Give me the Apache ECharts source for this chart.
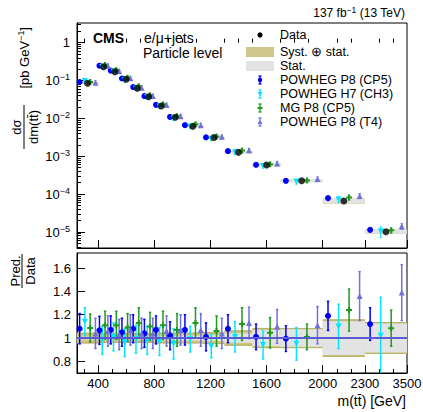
<!DOCTYPE html>
<html><head><meta charset="utf-8">
<script src="https://cdn.jsdelivr.net/npm/echarts@6/dist/echarts.min.js"></script>
<style>html,body{margin:0;padding:0;background:#fff}#c{width:423px;height:412px}</style>
</head><body><div id="c"></div>
<script>
// ---------------- data ----------------
const binEdges = [250,400,480,560,640,720,800,900,1000,1150,1300,1500,1700,2000,2300,3500];
// measured dsigma/dm(tt) [pb/GeV]
const dataXsec = [0.0847,0.232,0.171,0.108,0.0624,0.0374,0.0213,0.0107,0.0062,0.00313,0.00127,5.9e-4,2.26e-4,6.6e-5,1.02e-5];
// relative uncertainties of the measurement
const totRel  = [0.045,0.04,0.04,0.04,0.04,0.04,0.045,0.045,0.045,0.05,0.065,0.085,0.085,0.16,0.135];
const statRel = [0.012,0.01,0.01,0.01,0.012,0.013,0.015,0.018,0.02,0.025,0.04,0.07,0.075,0.145,0.125];
// Pred./Data ratios and their uncertainties
const ratioCP5 = [1.08,1.066,1.07,1.05,1.08,1.04,1.07,1.02,1.07,1.01,1.08,1.01,0.995,1.19,1.12];
const errCP5   = [0.13,0.12,0.12,0.12,0.12,0.12,0.12,0.12,0.13,0.12,0.12,0.11,0.11,0.125,0.14];
const ratioCH3 = [1.14,0.98,1.01,0.96,0.99,0.98,0.97,0.95,0.99,0.93,1.01,0.94,0.95,1.10,1.02];
const errCH3   = [0.12,0.12,0.12,0.12,0.12,0.12,0.12,0.13,0.11,0.1,0.13,0.12,0.14,0.19,0.33];
const ratioMG  = [1.086,1.11,1.11,1.09,1.13,1.10,1.11,1.07,1.13,1.06,1.12,1.045,1.01,1.24,1.085];
const errMG    = [0.12,0.12,0.12,0.12,0.13,0.12,0.12,0.14,0.13,0.13,0.14,0.13,0.11,0.18,0.155];
const ratioT4  = [1.04,1.06,1.03,1.07,1.04,1.04,1.06,1.07,1.07,1.04,1.13,1.10,1.11,1.36,1.39];
const errT4    = [0.13,0.13,0.13,0.13,0.13,0.13,0.13,0.13,0.14,0.13,0.135,0.145,0.16,0.21,0.24];
// axis ticks
const xTickLabels = [400,800,1200,1600,2000,2300,3500];
const xMinorTicks = [300,500,600,700,900,1000,1100,1300,1400,1500,1700,1800,1900,2100,2200,2700,3100];
const ratioTicks = [0.8,1.0,1.2,1.4,1.6];

// ---------------- helpers ----------------
const FONT = '"Liberation Sans", Arial, Helvetica, sans-serif';
// the last bin (2300-3500) is drawn compressed, like in the original figure
const tx = m => m <= 2300 ? m : 2300 + (m - 2300) * 0.25;
const XMIN = tx(binEdges[0]), XMAX = tx(binEdges[binEdges.length-1]);
const lo = i => tx(binEdges[i]), hi = i => tx(binEdges[i+1]);
const predX = (i,k) => lo(i) + (k + 0.5) / 4 * (hi(i) - lo(i));
const YMIN = 3.78e-6, YMAX = 3.31;
const logMinor = [];
for (let e = -6; e <= 0; e++) for (let k = 2; k <= 9; k++) {
  const v = k * Math.pow(10, e);
  if (v > YMIN && v < YMAX) logMinor.push(Math.log10(v));
}

const preds = [
  {name:'POWHEG P8 (CP5)', r:ratioCP5, e:errCP5, color:'#0000ff', symbol:'circle', size:6, rot:0},
  {name:'POWHEG H7 (CH3)', r:ratioCH3, e:errCH3, color:'#00e8ff', symbol:'triangle', size:6, rot:180},
  {name:'MG P8 (CP5)',     r:ratioMG,  e:errMG,  color:'#1f9a1f', symbol:'path://M1,0H2V1H3V2H2V3H1V2H0V1H1Z', size:6, rot:0},
  {name:'POWHEG P8 (T4)',  r:ratioT4,  e:errT4,  color:'#7272dc', symbol:'triangle', size:6, rot:0}
];
const KHAKI = '#cfc789', KHAKI_EDGE = '#bdb46c', GREY = '#e3e3e3';

function bandRender(fill, edge) {
  return function (params, api) {
    const p1 = api.coord([api.value(0), api.value(3)]);
    const p2 = api.coord([api.value(1), api.value(2)]);
    const ch = [{type:'rect', shape:{x:p1[0], y:p1[1], width:p2[0]-p1[0], height:p2[1]-p1[1]}, style:{fill:fill}}];
    if (edge) {
      ch.push({type:'line', shape:{x1:p1[0], y1:p1[1]+0.5, x2:p2[0], y2:p1[1]+0.5}, style:{stroke:edge, lineWidth:1.5}});
      ch.push({type:'line', shape:{x1:p1[0], y1:p2[1]-0.5, x2:p2[0], y2:p2[1]-0.5}, style:{stroke:edge, lineWidth:1.5}});
    }
    return {type:'group', children:ch};
  };
}
function errRender(color, lw, cap) {
  return function (params, api) {
    const x = api.value(0);
    const t = api.coord([x, api.value(2)]);
    const b = api.coord([x, api.value(1)]);
    const st = {stroke:color, lineWidth:lw};
    return {type:'group', children:[
      {type:'line', shape:{x1:t[0], y1:t[1], x2:b[0], y2:b[1]}, style:st},
      {type:'line', shape:{x1:t[0]-cap, y1:t[1], x2:t[0]+cap, y2:t[1]}, style:st},
      {type:'line', shape:{x1:b[0]-cap, y1:b[1], x2:b[0]+cap, y2:b[1]}, style:st}
    ]};
  };
}

const series = [];
// ---- top panel ----
series.push({type:'custom', name:'Syst ⊕ stat', xAxisIndex:0, yAxisIndex:0, z:1,
  renderItem:bandRender(KHAKI), encode:{x:[0,1], y:[2,3]},
  data:dataXsec.map((d,i)=>[lo(i), hi(i), d*(1-totRel[i]), d*(1+totRel[i])])});
series.push({type:'custom', name:'Stat', xAxisIndex:0, yAxisIndex:0, z:2,
  renderItem:bandRender(GREY), encode:{x:[0,1], y:[2,3]},
  data:dataXsec.map((d,i)=>[lo(i), hi(i), d*(1-statRel[i]), d*(1+statRel[i])])});
preds.forEach((p,k)=>{
  series.push({type:'custom', name:p.name, xAxisIndex:0, yAxisIndex:0, z:3,
    renderItem:errRender(p.color, 1, 1.2), encode:{x:0, y:[1,2]},
    data:dataXsec.map((d,i)=>[predX(i,k), d*(p.r[i]-p.e[i]), d*(p.r[i]+p.e[i])])});
  series.push({type:'scatter', name:p.name, xAxisIndex:0, yAxisIndex:0, z:4,
    symbol:p.symbol, symbolSize:p.size, symbolRotate:p.rot, itemStyle:{color:p.color, opacity:1},
    data:dataXsec.map((d,i)=>[predX(i,k), d*p.r[i]])});
});
series.push({type:'scatter', name:'Data', xAxisIndex:0, yAxisIndex:0, z:5,
  symbol:'circle', symbolSize:7, itemStyle:{color:'#000'},
  data:dataXsec.map((d,i)=>[(lo(i)+hi(i))/2, d])});
// ---- ratio panel ----
series.push({type:'custom', name:'Syst ⊕ stat ratio', xAxisIndex:2, yAxisIndex:2, z:1,
  renderItem:bandRender(KHAKI, KHAKI_EDGE), encode:{x:[0,1], y:[2,3]},
  data:totRel.map((u,i)=>[lo(i), hi(i), 1-u, 1+u])});
series.push({type:'custom', name:'Stat ratio', xAxisIndex:2, yAxisIndex:2, z:2,
  renderItem:bandRender(GREY), encode:{x:[0,1], y:[2,3]},
  data:statRel.map((u,i)=>[lo(i), hi(i), 1-u, 1+u]),
  markLine:{silent:true, symbol:'none', label:{show:false}, animation:false,
    lineStyle:{color:'#5a5ad2', width:2, type:'solid'}, data:[{yAxis:1}]}});
preds.forEach((p,k)=>{
  series.push({type:'custom', name:p.name+' ratio', xAxisIndex:2, yAxisIndex:2, z:3, clip:true,
    renderItem:errRender(p.color, 1.5, 1.2), encode:{x:0, y:[1,2]},
    data:p.r.map((r,i)=>[predX(i,k), r-p.e[i], r+p.e[i]])});
  series.push({type:'scatter', name:p.name+' ratio', xAxisIndex:2, yAxisIndex:2, z:4,
    symbol:p.symbol, symbolSize:p.size, symbolRotate:p.rot, itemStyle:{color:p.color, opacity:1},
    data:p.r.map((r,i)=>[predX(i,k), r])});
});

const axisTxt = {color:'#000', fontFamily:FONT, fontSize:13};
const xTickPos = xTickLabels.map(tx);
const xMinorPos = xMinorTicks.map(tx);
function xMain(grid, labels) {
  return {type:'value', gridIndex:grid, position:'bottom', min:XMIN, max:XMAX,
    axisLine:{show:true, onZero:false, lineStyle:{color:'#000', width:1}},
    axisTick:{show:true, inside:true, length:8, customValues:xTickPos, lineStyle:{color:'#000'}},
    axisLabel:labels ? Object.assign({show:true, margin:4, customValues:xTickPos,
      formatter:v=>String(xTickLabels[xTickPos.indexOf(v)])}, axisTxt) : {show:false},
    splitLine:{show:false}};
}
function xMinor(grid) {
  return {type:'value', gridIndex:grid, position:'bottom', min:XMIN, max:XMAX,
    axisLine:{show:false}, axisLabel:{show:false}, splitLine:{show:false},
    axisTick:{show:true, inside:true, length:4, customValues:xMinorPos, lineStyle:{color:'#000'}}};
}
const option = {
  animation:false,
  backgroundColor:'#fff',
  grid:[
    {left:77, top:23, width:330, height:225, show:true, borderColor:'#000', borderWidth:1, backgroundColor:'transparent', outerBoundsMode:'none'},
    {left:77, top:253, width:330, height:120, show:true, borderColor:'#000', borderWidth:1, backgroundColor:'transparent', outerBoundsMode:'none'}
  ],
  xAxis:[xMain(0,false), xMinor(0), xMain(1,true), xMinor(1)],
  yAxis:[
    {type:'log', gridIndex:0, position:'left', min:YMIN, max:YMAX, logBase:10,
      axisLine:{show:true, lineStyle:{color:'#000'}},
      axisTick:{show:true, inside:true, length:8, lineStyle:{color:'#000'}},
      splitLine:{show:false},
      axisLabel:Object.assign({margin:7, showMinLabel:false, showMaxLabel:false,
        formatter:v=>{const e=Math.round(Math.log10(v)); return e===0?'1':'{a|10}{s|−'+(-e)+'}';},
        rich:{a:{fontSize:13, fontFamily:FONT, color:'#000'}, s:{fontSize:9, fontFamily:FONT, color:'#000', padding:[0,0,7,0]}}}, axisTxt)},
    {type:'value', gridIndex:0, position:'left', min:Math.log10(YMIN), max:Math.log10(YMAX),
      axisLine:{show:false}, axisLabel:{show:false}, splitLine:{show:false},
      axisTick:{show:true, inside:true, length:4, customValues:logMinor, lineStyle:{color:'#000'}}},
    {type:'value', gridIndex:1, position:'left', min:0.7, max:1.73,
      axisLine:{show:true, onZero:false, lineStyle:{color:'#000'}},
      axisTick:{show:true, inside:true, length:8, customValues:ratioTicks, lineStyle:{color:'#000'}},
      splitLine:{show:false},
      axisLabel:Object.assign({margin:6, customValues:ratioTicks, formatter:v=>Math.abs(v-1)<1e-9?'1':v.toFixed(1)}, axisTxt)}
  ],
  series:series,
  graphic:[]
};

// ---------------- texts and legend ----------------
const G = option.graphic;
const tstyle = (text, opt) => Object.assign({text:text, fill:'#000', fontFamily:FONT, fontSize:13, align:'left', verticalAlign:'middle'}, opt||{});
const txt = (x,y,text,opt) => G.push({type:'text', x:x, y:y, silent:true, style:tstyle(text,opt)});
txt(405, 13, '137 fb{s|−1} (13 TeV)', {align:'right', fontSize:12,
  rich:{s:{fontSize:8.5, fontFamily:FONT, padding:[0,0,6,0]}}});
txt(93, 38, 'CMS', {fontSize:14, fontWeight:'bold', fontFamily:'"Liberation Sans", Arial, sans-serif'});
txt(144, 38, 'e/μ+jets', {fontSize:14});
txt(143, 53, 'Particle level', {fontSize:14});
// y-axis titles
G.push({type:'group', x:24, y:27, rotation:Math.PI/2, silent:true, children:[
  {type:'text', x:0, y:0, style:tstyle('[pb GeV{s|−1}]', {align:'right', rich:{s:{fontSize:9, fontFamily:FONT, padding:[0,0,7,0]}}})},
  {type:'text', x:-100, y:-8, style:tstyle('dσ', {align:'center'})},
  {type:'text', x:-100, y:9, style:tstyle('dm(tt̄)', {align:'center'})},
  {type:'line', shape:{x1:-122, y1:0, x2:-78, y2:0}, style:{stroke:'#000', lineWidth:1}}
]});
G.push({type:'group', x:22, y:254, rotation:Math.PI/2, silent:true, children:[
  {type:'text', x:-17, y:-7, style:tstyle('Pred.', {align:'center'})},
  {type:'text', x:-17, y:8, style:tstyle('Data', {align:'center'})},
  {type:'line', shape:{x1:-34, y1:0, x2:0, y2:0}, style:{stroke:'#000', lineWidth:1}}
]});
txt(406, 401, 'm(tt̄) [GeV]', {align:'right', fontSize:14});
// legend
const LX = 260, TX = 280, LF = 12.5;
G.push({type:'circle', shape:{cx:LX, cy:35, r:2.6}, style:{fill:'#000'}, silent:true});
txt(TX, 35, 'Data', {fontSize:LF});
G.push({type:'rect', shape:{x:246, y:47, width:28, height:10}, style:{fill:KHAKI}, silent:true});
txt(TX, 52, 'Syst. ⊕ stat.', {fontSize:LF});
G.push({type:'rect', shape:{x:246, y:61, width:28, height:10}, style:{fill:GREY}, silent:true});
txt(TX, 66, 'Stat.', {fontSize:LF});
const legY = [80, 94, 108, 122];
preds.forEach((p,k)=>{
  const y = legY[k];
  G.push({type:'line', shape:{x1:LX, y1:y-4, x2:LX, y2:y+4}, style:{stroke:p.color, lineWidth:1.3}, silent:true});
  G.push({type:'line', shape:{x1:LX-1.5, y1:y-4, x2:LX+1.5, y2:y-4}, style:{stroke:p.color, lineWidth:1.3}, silent:true});
  G.push({type:'line', shape:{x1:LX-1.5, y1:y+4, x2:LX+1.5, y2:y+4}, style:{stroke:p.color, lineWidth:1.3}, silent:true});
  if (k===0) G.push({type:'circle', shape:{cx:LX, cy:y, r:2.2}, style:{fill:p.color}, silent:true});
  if (k===1) G.push({type:'polygon', shape:{points:[[LX-2.5,y-2],[LX+2.5,y-2],[LX,y+2.2]]}, style:{fill:p.color}, silent:true});
  if (k===2) G.push({type:'rect', shape:{x:LX-2.5, y:y-1, width:5, height:2}, style:{fill:p.color}, silent:true});
  if (k===3) G.push({type:'polygon', shape:{points:[[LX-2.5,y+2],[LX+2.5,y+2],[LX,y-2.2]]}, style:{fill:p.color}, silent:true});
  txt(TX, y, p.name, {fontSize:LF});
});

const chart = echarts.init(document.getElementById('c'), null, {renderer:'svg', width:423, height:412});
chart.setOption(option);
</script>
</body></html>
